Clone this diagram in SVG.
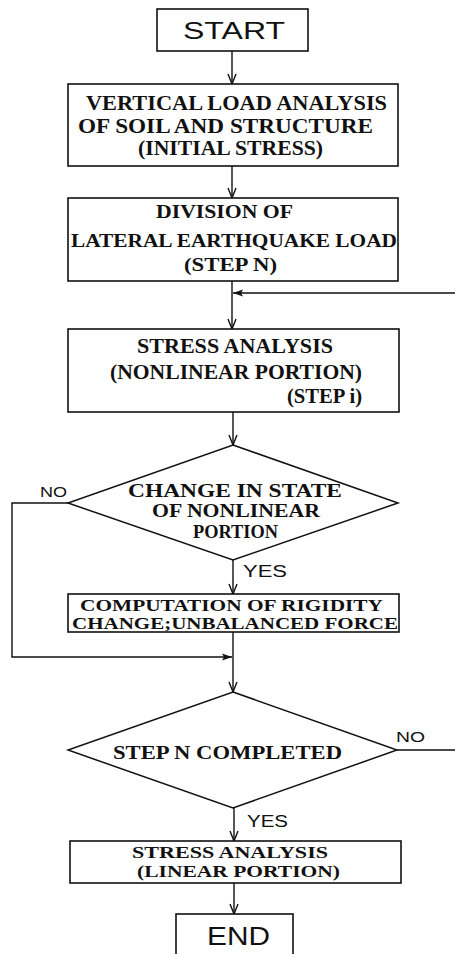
<svg xmlns="http://www.w3.org/2000/svg" width="455" height="954" viewBox="0 0 455 954">
<style>
.box{fill:#fff;stroke:#111;stroke-width:1.6}
.dia{fill:#fff;stroke:#111;stroke-width:1.5}
.ln{fill:none;stroke:#111;stroke-width:1.4}
.s{font-family:"Liberation Serif","Times New Roman",serif;font-weight:bold;fill:#111}
.a{font-family:"Liberation Sans",Arial,sans-serif;fill:#111}
</style>
<defs>
<marker id="v" viewBox="-11 -6 12 12" refX="0" refY="0" markerWidth="12" markerHeight="12" markerUnits="userSpaceOnUse" orient="auto">
<path d="M-10,-4 L0,0 L-10,4" fill="none" stroke="#111" stroke-width="1.4"/>
</marker>
<marker id="f" viewBox="-11 -6 12 12" refX="0" refY="0" markerWidth="12" markerHeight="12" markerUnits="userSpaceOnUse" orient="auto">
<path d="M-10,-3.5 L0,0 L-10,3.5 L-8,0 Z" fill="#111"/>
</marker>
</defs>
<g id="connectors">
<path class="ln" d="M232,51 V84" marker-end="url(#v)"/>
<path class="ln" d="M232,166 V198" marker-end="url(#v)"/>
<path class="ln" d="M232,281 V329" marker-end="url(#v)"/>
<path class="ln" d="M397,750 H457 V293 H233" marker-end="url(#f)"/>
<path class="ln" d="M233,412 V445" marker-end="url(#v)"/>
<path class="ln" d="M233,560 V594" marker-end="url(#v)"/>
<path class="ln" d="M68,503 H12 V657 H232" marker-end="url(#f)"/>
<path class="ln" d="M233,632 V692" marker-end="url(#v)"/>
<path class="ln" d="M234,808 V841" marker-end="url(#v)"/>
<path class="ln" d="M234,883 V914" marker-end="url(#v)"/>
<text class="a" x="40" y="497" font-size="15" textLength="27" lengthAdjust="spacingAndGlyphs">NO</text>
<text class="a" x="243" y="577" font-size="16" textLength="44" lengthAdjust="spacingAndGlyphs">YES</text>
<text class="a" x="396" y="742" font-size="15" textLength="29" lengthAdjust="spacingAndGlyphs">NO</text>
<text class="a" x="247" y="827" font-size="16" textLength="41" lengthAdjust="spacingAndGlyphs">YES</text>
</g>
<g id="start">
<rect class="box" x="157" y="9" width="151" height="42"/>
<text class="a" x="183" y="39" font-size="24" textLength="102" lengthAdjust="spacingAndGlyphs">START</text>
</g>
<g id="vertical-load">
<rect class="box" x="68" y="84" width="330" height="82"/>
<text class="s" x="86" y="110" font-size="20" textLength="301" lengthAdjust="spacingAndGlyphs">VERTICAL LOAD ANALYSIS</text>
<text class="s" x="78" y="133" font-size="20" textLength="295" lengthAdjust="spacingAndGlyphs">OF SOIL AND STRUCTURE</text>
<text class="s" x="138" y="155" font-size="20" textLength="185" lengthAdjust="spacingAndGlyphs">(INITIAL STRESS)</text>
</g>
<g id="division">
<rect class="box" x="68" y="198" width="330" height="83"/>
<text class="s" x="156" y="218" font-size="19" textLength="137" lengthAdjust="spacingAndGlyphs">DIVISION OF</text>
<text class="s" x="71" y="247" font-size="19" textLength="326" lengthAdjust="spacingAndGlyphs">LATERAL EARTHQUAKE LOAD</text>
<text class="s" x="184" y="271" font-size="19" textLength="93" lengthAdjust="spacingAndGlyphs">(STEP N)</text>
</g>
<g id="stress-nonlinear">
<rect class="box" x="68" y="329" width="331" height="83"/>
<text class="s" x="137" y="353" font-size="21" textLength="196" lengthAdjust="spacingAndGlyphs">STRESS ANALYSIS</text>
<text class="s" x="110" y="379" font-size="21" textLength="252" lengthAdjust="spacingAndGlyphs">(NONLINEAR PORTION)</text>
<text class="s" x="287" y="403" font-size="20" textLength="75" lengthAdjust="spacingAndGlyphs">(STEP i)</text>
</g>
<g id="change-state">
<polygon class="dia" points="233,445 398,503 233,560 68,503"/>
<text class="s" x="128" y="497" font-size="19" textLength="214" lengthAdjust="spacingAndGlyphs">CHANGE IN STATE</text>
<text class="s" x="152" y="517" font-size="19" textLength="168" lengthAdjust="spacingAndGlyphs">OF NONLINEAR</text>
<text class="s" x="193" y="538" font-size="18" textLength="85" lengthAdjust="spacingAndGlyphs">PORTION</text>
</g>
<g id="computation">
<rect class="box" x="68" y="594" width="331" height="38"/>
<text class="s" x="80" y="611" font-size="17" textLength="303" lengthAdjust="spacingAndGlyphs">COMPUTATION OF RIGIDITY</text>
<text class="s" x="72" y="629" font-size="17" textLength="326" lengthAdjust="spacingAndGlyphs">CHANGE;UNBALANCED FORCE</text>
</g>
<g id="step-n-completed">
<polygon class="dia" points="233,692 397,750 233,808 68,750"/>
<text class="s" x="113" y="759" font-size="19" textLength="229" lengthAdjust="spacingAndGlyphs">STEP N COMPLETED</text>
</g>
<g id="stress-linear">
<rect class="box" x="70" y="841" width="331" height="42"/>
<text class="s" x="132" y="858" font-size="17" textLength="196" lengthAdjust="spacingAndGlyphs">STRESS ANALYSIS</text>
<text class="s" x="137" y="877" font-size="17" textLength="203" lengthAdjust="spacingAndGlyphs">(LINEAR PORTION)</text>
</g>
<g id="end">
<rect class="box" x="176" y="914" width="117" height="50"/>
<text class="a" x="207" y="945" font-size="25" textLength="63" lengthAdjust="spacingAndGlyphs">END</text>
</g>
</svg>
